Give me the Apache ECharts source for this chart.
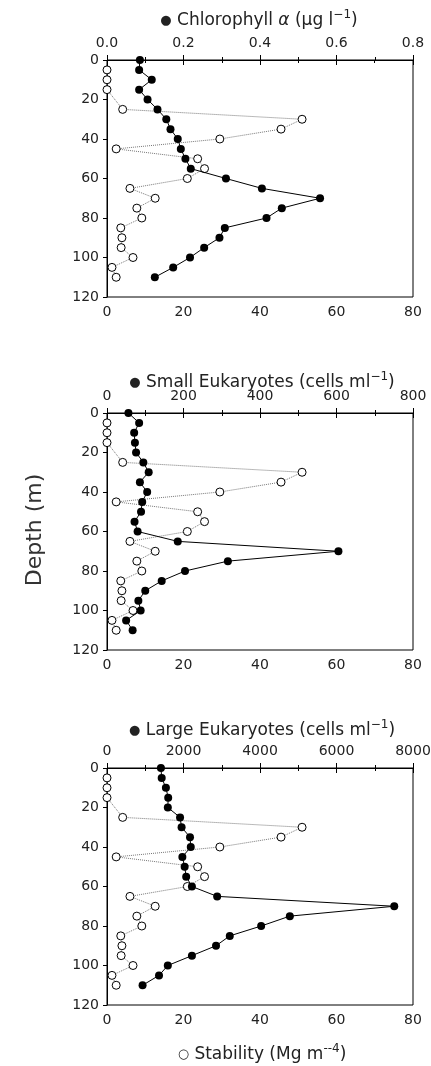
<!DOCTYPE html>
<html>
<head>
<meta charset="utf-8">
<script src="https://cdn.jsdelivr.net/npm/echarts@6/dist/echarts.min.js"></script>
<style>
  html, body { margin: 0; padding: 0; background: #fff; }
  #chart { width: 431px; height: 1066px; }
</style>
</head>
<body>
<div id="chart"></div>
<script>
// depths (m)
var depths = [0, 5, 10, 15, 20, 25, 30, 35, 40, 45, 50, 55, 60, 65, 70, 75, 80, 85, 90, 95, 100, 105, 110];
var stabDepths = [5, 10, 15, 25, 30, 35, 40, 45, 50, 55, 60, 65, 70, 75, 80, 85, 90, 95, 100, 105, 110];

// stability (Mg m^-4), same in every panel
var stability = [0, 0, 0, 4.1, 51, 45.5, 29.5, 2.4, 23.7, 25.5, 21, 6, 12.6, 7.8, 9.1, 3.6, 3.9, 3.7, 6.8, 1.3, 2.4];

// chlorophyll a (ug/l)
var chl = [0.086, 0.084, 0.117, 0.084, 0.106, 0.132, 0.155, 0.166, 0.185, 0.193, 0.205, 0.219,
           0.311, 0.405, 0.557, 0.457, 0.417, 0.308, 0.294, 0.254, 0.217, 0.173, 0.125];

// small eukaryotes (cells/ml)
var smallEuk = [56, 84, 71, 73, 76, 95, 109, 86, 105, 92, 89, 72,
                80, 185, 605, 316, 204, 143, 100, 82, 88, 50, 67];

// large eukaryotes (cells/ml)
var largeEuk = [1410, 1430, 1540, 1600, 1590, 1910, 1950, 2170, 2190, 1970, 2030, 2070,
                2220, 2880, 7510, 4780, 4030, 3210, 2850, 2220, 1590, 1360, 930];

var FONT = 'DejaVu Sans';
var panelTops = [60, 413, 768];
var topMax = [0.8, 800, 8000];
var topInt = [0.2, 200, 2000];
var profiles = [chl, smallEuk, largeEuk];

function pairs(xs, ys) {
  return xs.map(function (v, i) { return [v, ys[i]]; });
}

var grids = [], xAxes = [], yAxes = [], series = [];
panelTops.forEach(function (top, p) {
  grids.push({ left: 107, top: top, width: 306, height: 237, show: true,
    outerBoundsMode: 'none', containLabel: false,
    borderColor: '#000', borderWidth: 1, backgroundColor: 'transparent' });
  var common = {
    type: 'value', gridIndex: p,
    axisLine: { show: true, lineStyle: { color: '#000', width: 1 } },
    axisTick: { show: true, inside: true, length: 5, lineStyle: { color: '#000' } },
    minorTick: { show: true, splitNumber: 2, length: 3, lineStyle: { color: '#000' } },
    splitLine: { show: false },
    axisLabel: { fontFamily: FONT, fontSize: 14, color: '#222', margin: 8 }
  };
  xAxes.push(Object.assign({}, common, { position: 'bottom', min: 0, max: 80, interval: 20,
    axisLabel: Object.assign({}, common.axisLabel, { formatter: function (v) { return String(v); } }) }));
  xAxes.push(Object.assign({}, common, { position: 'top', min: 0, max: topMax[p], interval: topInt[p],
    axisLabel: Object.assign({}, common.axisLabel, { margin: 10,
      formatter: p === 0 ? function (v) { return v.toFixed(1); } : function (v) { return String(v); } }) }));
  yAxes.push({
    type: 'value', gridIndex: p, inverse: true, min: 0, max: 120, interval: 20,
    axisLine: { show: true, lineStyle: { color: '#000', width: 1 } },
    axisTick: { show: true, inside: false, length: 4, lineStyle: { color: '#000' } },
    splitLine: { show: false },
    axisLabel: { fontFamily: FONT, fontSize: 14, color: '#222', margin: 8,
      formatter: function (v) { return String(v); } }
  });
  series.push({
    type: 'line', xAxisIndex: p * 2, yAxisIndex: p,
    data: pairs(stability, stabDepths),
    symbol: 'circle', symbolSize: 8,
    itemStyle: { color: '#fff', borderColor: '#000', borderWidth: 1 },
    lineStyle: { color: '#777', width: 1, type: 'dotted' },
    z: 2
  });
  series.push({
    type: 'line', xAxisIndex: p * 2 + 1, yAxisIndex: p,
    data: pairs(profiles[p], depths),
    symbol: 'circle', symbolSize: 8,
    itemStyle: { color: '#000' },
    lineStyle: { color: '#000', width: 1 },
    z: 3
  });
});

var rich = {
  s: { fontFamily: FONT, fontSize: 12, verticalAlign: 'top', lineHeight: 12, color: '#222' },
  i: { fontFamily: FONT, fontSize: 17, fontStyle: 'italic', color: '#222' },
  d: { fontFamily: FONT, fontSize: 13, color: '#000' }
};
function label(text, x, y) {
  return { type: 'text', x: x, y: y,
    style: { text: text, fontFamily: FONT, fontSize: 17, lineHeight: 24, fill: '#222',
      align: 'center', verticalAlign: 'middle', rich: rich } };
}

var option = {
  animation: false,
  backgroundColor: '#fff',
  grid: grids,
  xAxis: xAxes,
  yAxis: yAxes,
  series: series,
  graphic: [
    label('{d|●} Chlorophyll {i|α} (μg l{s|−1})', 259, 21),
    label('{d|●} Small Eukaryotes (cells ml{s|−1})', 262, 383),
    label('{d|●} Large Eukaryotes (cells ml{s|−1})', 262, 731),
    label('{d|○} Stability (Mg m{s|--4})', 262, 1055),
    { type: 'text', x: 35, y: 530, rotation: Math.PI / 2,
      style: { text: 'Depth (m)', fontFamily: FONT, fontSize: 22, fill: '#333',
        align: 'center', verticalAlign: 'middle' } }
  ]
};

var chart = echarts.init(document.getElementById('chart'));
chart.setOption(option);
</script>
</body>
</html>
